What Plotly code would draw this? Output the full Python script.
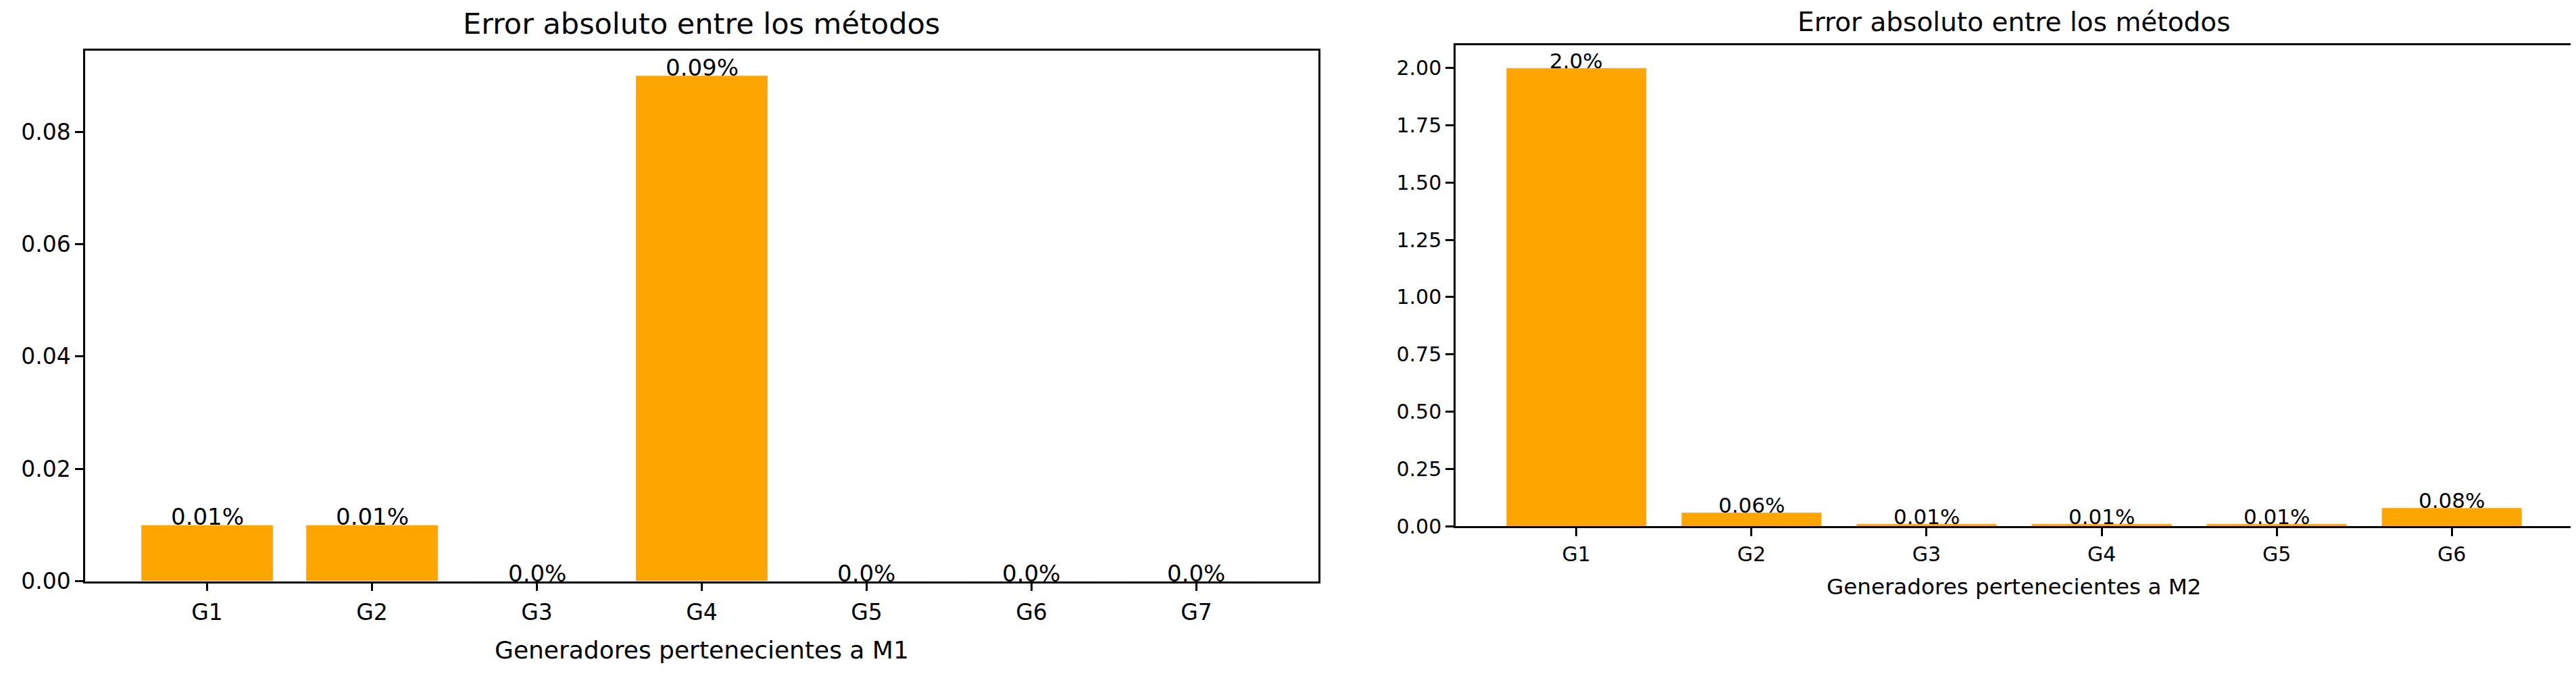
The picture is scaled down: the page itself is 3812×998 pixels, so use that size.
import plotly.graph_objects as go

# data
gen_m1 = ["G1", "G2", "G3", "G4", "G5", "G6", "G7"]
err_m1 = [0.01, 0.01, 0.0, 0.09, 0.0, 0.0, 0.0]
gen_m2 = ["G1", "G2", "G3", "G4", "G5", "G6"]
err_m2 = [2.0, 0.06, 0.01, 0.01, 0.01, 0.08]
ticks_m1 = [0.0, 0.02, 0.04, 0.06, 0.08]
ticks_m2 = [0.0, 0.25, 0.5, 0.75, 1.0, 1.25, 1.5, 1.75, 2.0]

title_txt = "Error absoluto entre los métodos"
xlabel_m1 = "Generadores pertenecientes a M1"
xlabel_m2 = "Generadores pertenecientes a M2"

W, H = 3812, 998
FONT = "DejaVu Sans"
ORANGE = "#FFA500"

fig = go.Figure()
fig.add_trace(go.Bar(x=gen_m1, y=err_m1, width=0.8, marker_color=ORANGE,
                     xaxis="x", yaxis="y", showlegend=False, hoverinfo="x+y"))
fig.add_trace(go.Bar(x=gen_m2, y=err_m2, width=0.8, marker_color=ORANGE,
                     xaxis="x2", yaxis="y2", showlegend=False, hoverinfo="x+y"))

## bar labels sit on top of each bar
ann = []
for g, v in zip(gen_m1, err_m1):
    ann.append(dict(x=g, y=v, xref="x", yref="y", text=f"{v}%", showarrow=False,
                    yanchor="bottom", yshift=-10, font=dict(size=34, color="black", family=FONT)))
for g, v in zip(gen_m2, err_m2):
    ann.append(dict(x=g, y=v, xref="x2", yref="y2", text=f"{v}%", showarrow=False,
                    yanchor="bottom", yshift=-9, font=dict(size=31, color="black", family=FONT)))

## titles and axis labels
ann.append(dict(x=1030 / W, y=1 - 1 / H, xref="paper", yref="paper", text=title_txt, showarrow=False,
                xanchor="center", yanchor="top", borderpad=0,
                font=dict(size=43, color="black", family=FONT)))
ann.append(dict(x=2972 / W, y=1 - 1 / H, xref="paper", yref="paper", text=title_txt, showarrow=False,
                xanchor="center", yanchor="top", borderpad=0,
                font=dict(size=39, color="black", family=FONT)))
ann.append(dict(x=1030 / W, y=1 - 974 / H, xref="paper", yref="paper", text=xlabel_m1, showarrow=False,
                xanchor="center", yanchor="middle", font=dict(size=36, color="black", family=FONT)))
ann.append(dict(x=2972 / W, y=1 - 879 / H, xref="paper", yref="paper", text=xlabel_m2, showarrow=False,
                xanchor="center", yanchor="middle", font=dict(size=32.6, color="black", family=FONT)))

axis_style = dict(showline=True, mirror=True, linecolor="black", linewidth=2.5,
                  ticks="outside", ticklen=12, tickwidth=2.5, tickcolor="black",
                  showgrid=False, zeroline=False)

fig.update_layout(
    width=W, height=H, autosize=False,
    margin=dict(l=0, r=0, t=0, b=0),
    plot_bgcolor="white", paper_bgcolor="white",
    font=dict(family=FONT, color="black"),
    annotations=ann,
    xaxis=dict(domain=[118 / W, 1943 / W], range=[-0.74, 6.74], anchor="y",
               tickfont=dict(size=33), ticklabelstandoff=3, **axis_style),
    yaxis=dict(domain=[1 - 870 / H, 1 - 68 / H], range=[0, 0.0945], anchor="x",
               tickvals=ticks_m1, tickformat=".2f", tickfont=dict(size=33), **axis_style),
    xaxis2=dict(domain=[2146 / W, 3799 / W], range=[-0.69, 5.69], anchor="y2",
                tickfont=dict(size=30), ticklabelstandoff=1, **axis_style),
    yaxis2=dict(domain=[1 - 787 / H, 1 - 60 / H], range=[0, 2.1], anchor="x2",
                tickvals=ticks_m2, tickformat=".2f", tickfont=dict(size=30), **axis_style),
)

fig.write_html("out.html")
